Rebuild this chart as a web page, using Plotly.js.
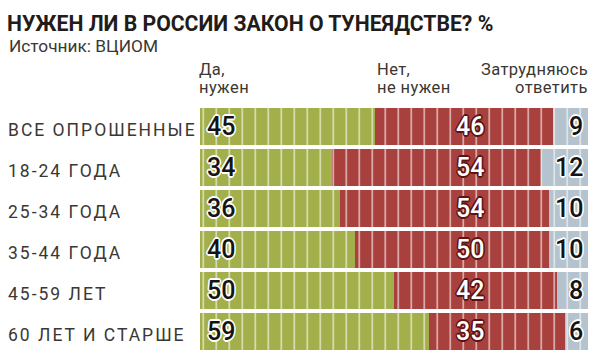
<!DOCTYPE html>
<html>
<head>
<meta charset="utf-8">
<script src="https://cdn.plot.ly/plotly-3.0.1.min.js"></script>
<style>
html,body{margin:0;padding:0;background:#fff;}
#chart{width:600px;height:363px;}
</style>
</head>
<body>
<div id="chart"></div>
<script>
// ---- data ----
const categories = ['ВСЕ ОПРОШЕННЫЕ', '18-24 ГОДА', '25-34 ГОДА', '35-44 ГОДА', '45-59 ЛЕТ', '60 ЛЕТ И СТАРШЕ'];
const yesValues = [45, 34, 36, 40, 50, 59];
const noValues = [46, 54, 54, 50, 42, 35];
const unsureValues = [9, 12, 10, 10, 8, 6];
const seriesNames = ['Да, нужен', 'Нет, не нужен', 'Затрудняюсь ответить'];
const headerLines = [['Да,', 'нужен'], ['Нет,', 'не нужен'], ['Затрудняюсь', 'ответить']];
const titleText = 'НУЖЕН ЛИ В РОССИИ ЗАКОН О ТУНЕЯДСТВЕ? %';
const sourceText = 'Источник: ВЦИОМ';

// ---- style ----
const GREEN = '#a3af4a', RED = '#a8403d', GRAY = '#b4c3cd';
const TXT = '#3b3733';
const ML = 200, MR = 12, MT = 106, MB = 11, W = 600, H = 363;
const PW = W - ML - MR, PH = H - MT - MB;
const X = px => (px - ML) / PW;
const Y = py => (MT + PH - py) / PH;
const FONT = 'Roboto, "Noto Sans", sans-serif';

function outline(c, w) {
  const s = [];
  for (const [dx, dy] of [[1,0],[-1,0],[0,1],[0,-1],[0.7,0.7],[-0.7,0.7],[0.7,-0.7],[-0.7,-0.7]]) {
    s.push(`${(dx*w).toFixed(2)}px ${(dy*w).toFixed(2)}px 0 ${c}`);
  }
  return s.join(', ');
}

const traces = [yesValues, noValues, unsureValues].map((vals, i) => ({
  type: 'bar',
  orientation: 'h',
  name: seriesNames[i],
  x: vals,
  y: categories,
  marker: {color: [GREEN, RED, GRAY][i], line: {width: 0}},
  hoverinfo: 'name+x'
}));

const annotations = [];
annotations.push({
  text: sourceText, xref: 'paper', yref: 'paper', x: X(7), y: Y(46.5),
  xanchor: 'left', yanchor: 'middle', showarrow: false,
  font: {family: FONT, size: 17.3, color: TXT}
});
const headerX = [X(197), X(375), X(590)];
const headerAnchor = ['left', 'left', 'right'];
const lineY = [Y(69), Y(88)];
headerLines.forEach((lines, i) => lines.forEach((t, j) => annotations.push({
  text: `<span style="letter-spacing:0.4px">${t}</span>`, xref: 'paper', yref: 'paper', x: headerX[i], y: lineY[j],
  xanchor: headerAnchor[i], yanchor: 'middle', showarrow: false,
  font: {family: FONT, size: 16.5, color: TXT}
})));
categories.forEach((c, i) => {
  annotations.push({
    text: `<span style="letter-spacing:2px">${c}</span>`, xref: 'paper', yref: 'y', x: X(6), y: c, yshift: -3.5,
    xanchor: 'left', yanchor: 'middle', showarrow: false,
    font: {family: FONT, size: 17.5, color: TXT}
  });
  const numFont = (col, sh) => ({family: FONT, size: 25, weight: 500, color: col, shadow: outline(sh, 1.6)});
  annotations.push({
    text: String(yesValues[i]), xref: 'paper', yref: 'y', x: X(205), y: c,
    xanchor: 'left', yanchor: 'middle', showarrow: false, font: numFont('#141414', '#ffffff')
  });
  annotations.push({
    text: String(noValues[i]), xref: 'paper', yref: 'y', x: X(470), y: c,
    xanchor: 'center', yanchor: 'middle', showarrow: false, font: numFont('#ffffff', '#5e1212')
  });
  annotations.push({
    text: String(unsureValues[i]), xref: 'paper', yref: 'y', x: X(585), y: c,
    xanchor: 'right', yanchor: 'middle', showarrow: false, font: numFont('#141414', '#ffffff')
  });
});

// decorative vertical stripes across the bars
const stripeStart = 0.85, stripeStep = 3.35, stripeCount = 30;
const shapes = [];
for (let k = 0; k < stripeCount; k++) {
  const xv = stripeStart + k * stripeStep;
  shapes.push({type: 'line', xref: 'x', yref: 'paper', x0: xv, x1: xv, y0: 0, y1: 1,
    line: {color: 'rgba(255,255,255,0.55)', width: 1.8}, layer: 'above'});
}

const layout = {
  width: W, height: H,
  margin: {l: ML, r: MR, t: MT, b: MB, pad: 0},
  paper_bgcolor: '#ffffff', plot_bgcolor: '#ffffff',
  barmode: 'stack', bargap: 0.098,
  showlegend: false,
  title: {
    text: titleText, xref: 'container', yref: 'container',
    x: 7 / W, xanchor: 'left', y: 1 - 24 / H, yanchor: 'middle',
    font: {family: FONT, size: 21.2, weight: 700, color: '#1f1c19'}
  },
  xaxis: {range: [0, 100], visible: false, fixedrange: true},
  yaxis: {type: 'category', categoryorder: 'array', categoryarray: categories, autorange: 'reversed',
    showticklabels: false, showgrid: false, zeroline: false, showline: false, ticks: '', fixedrange: true},
  annotations: annotations,
  shapes: shapes
};

Plotly.newPlot('chart', traces, layout, {displayModeBar: false, staticPlot: true});
</script>
</body>
</html>
